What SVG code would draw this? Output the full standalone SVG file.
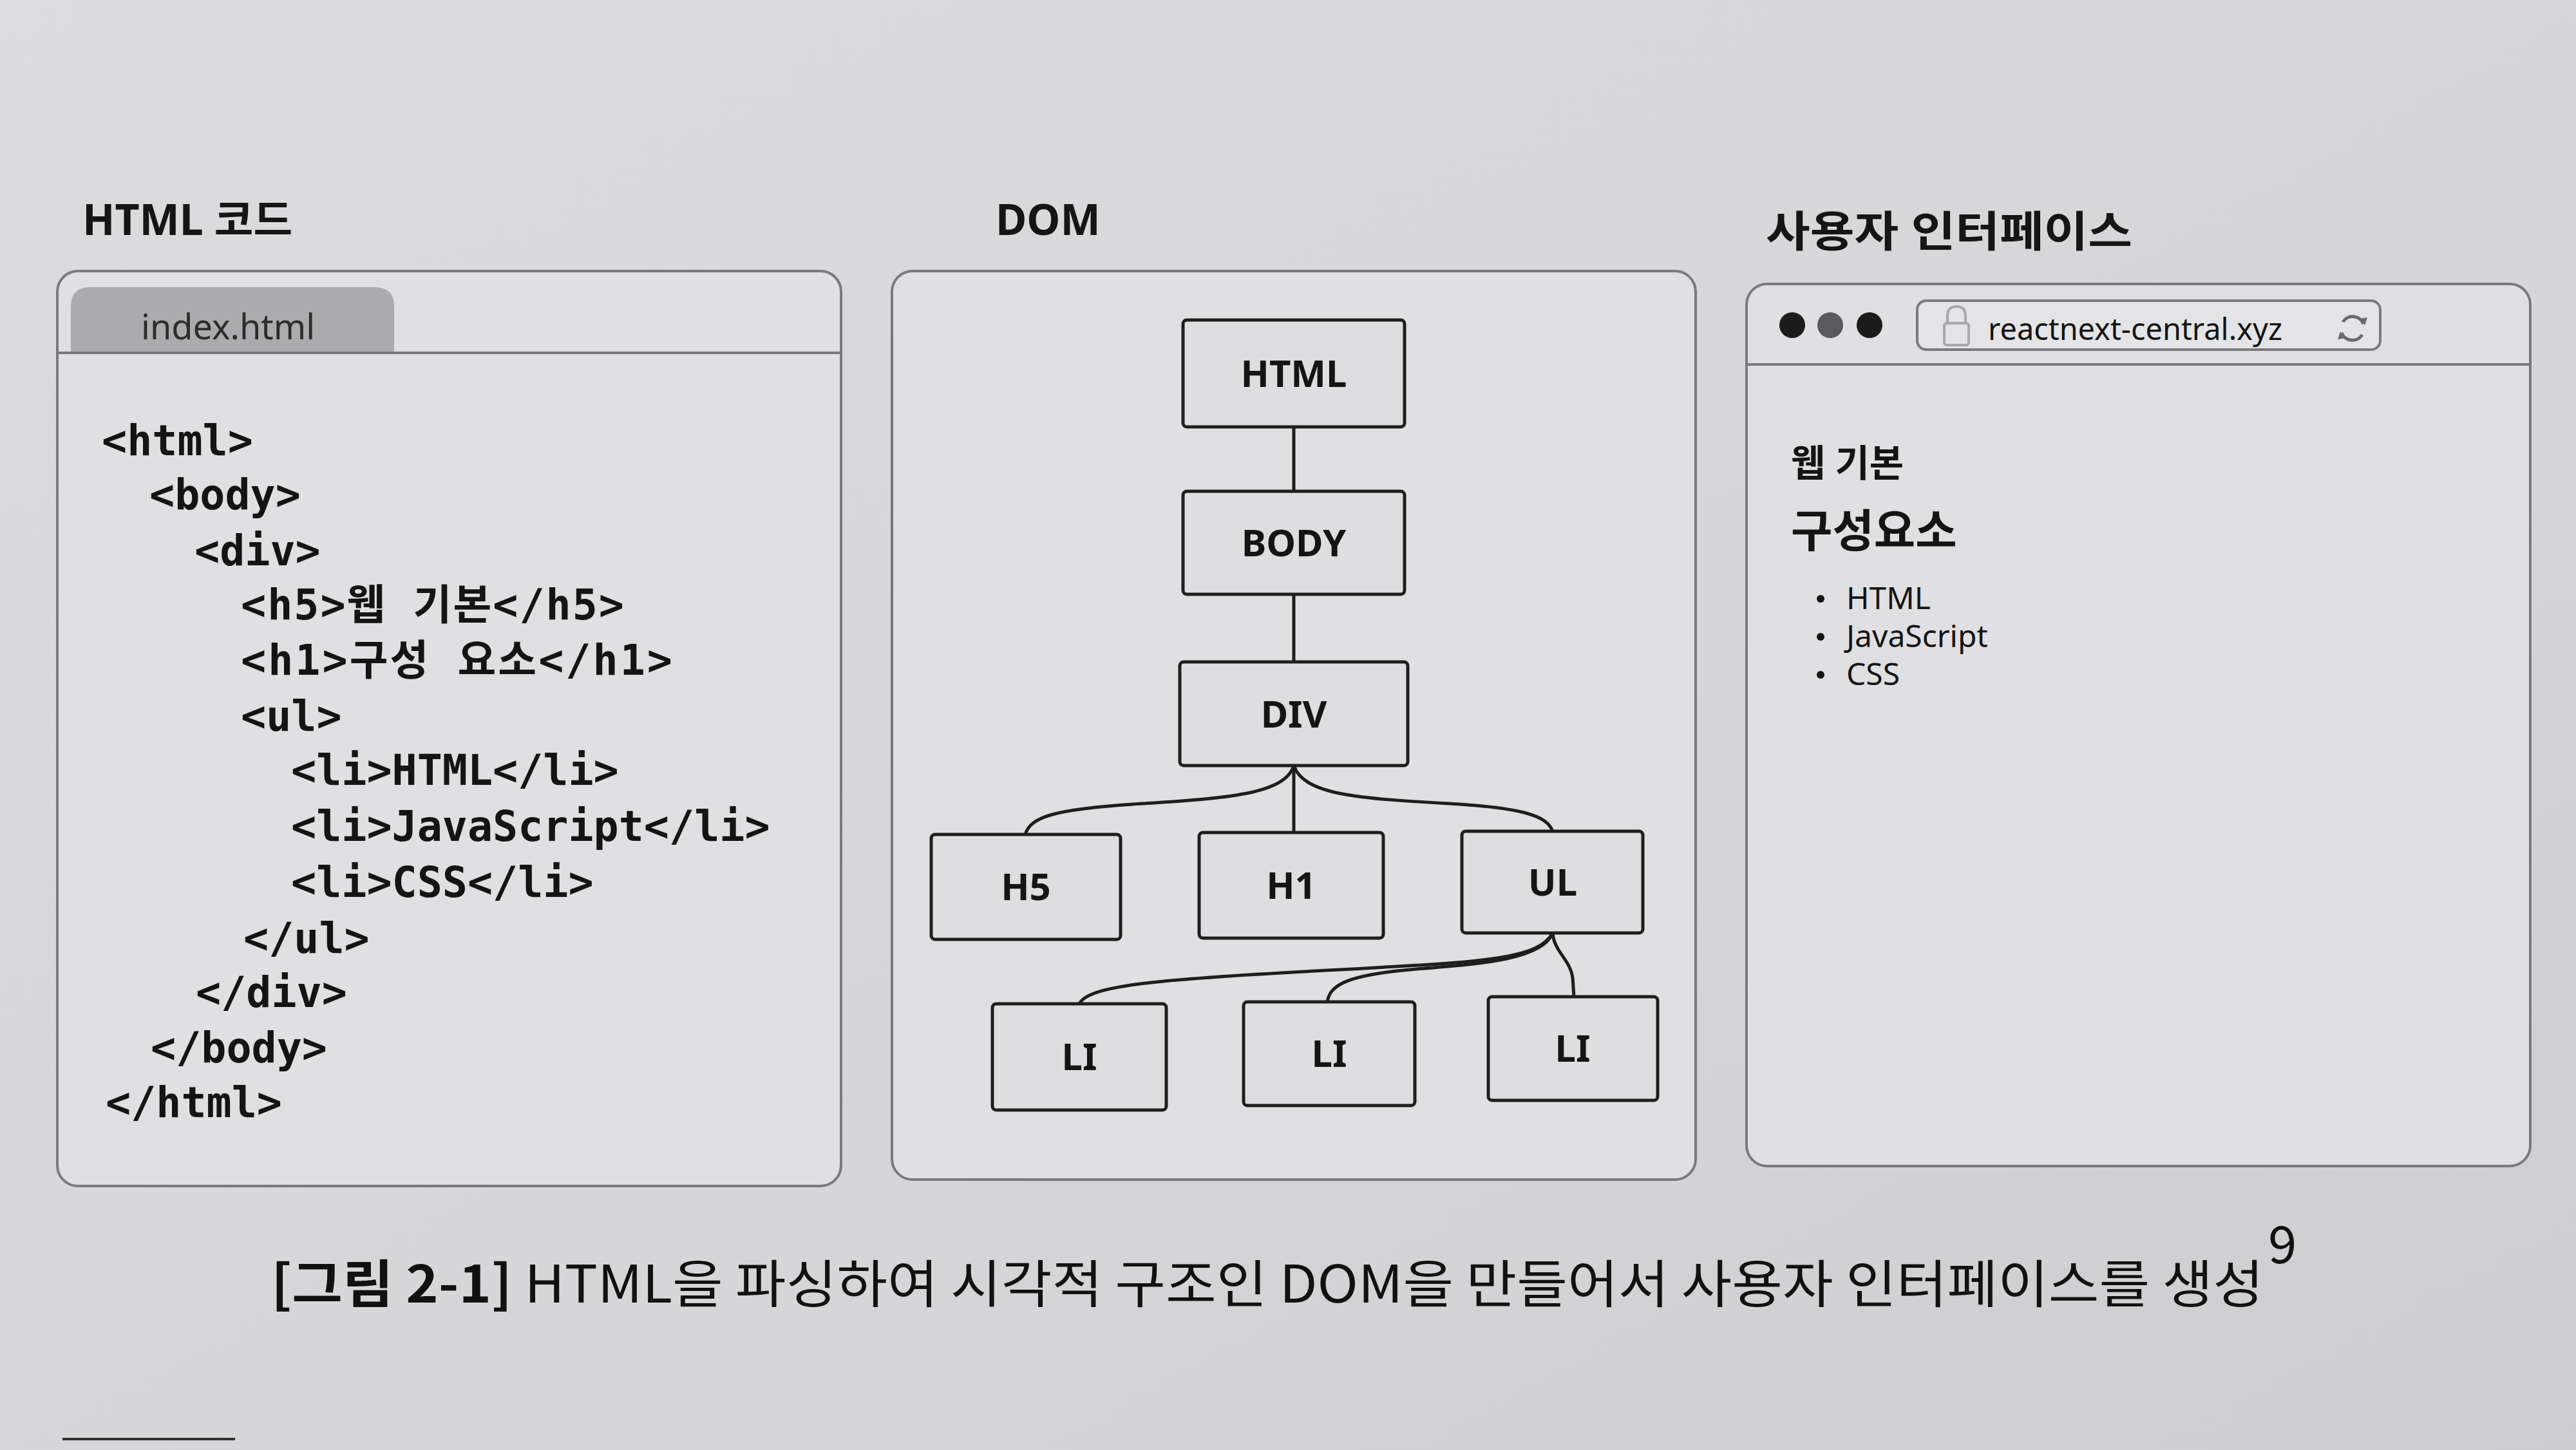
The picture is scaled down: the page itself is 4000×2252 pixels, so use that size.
<svg xmlns="http://www.w3.org/2000/svg" width="4000" height="2252" viewBox="0 0 4000 2252">
  <defs>
    <linearGradient id="bg" x1="0" y1="0" x2="1" y2="1">
      <stop offset="0" stop-color="#dcdcde"/>
      <stop offset="0.6" stop-color="#d6d6d8"/>
      <stop offset="1" stop-color="#cdcdcf"/>
    </linearGradient>
  </defs>
  <style>
    .panel { fill: #e0e0e2; stroke: #7a7a7c; stroke-width: 4; }
    .divider { stroke: #7a7a7c; stroke-width: 4; fill: none; }
    .title { font-family: "Noto Sans", "Noto Sans CJK KR", sans-serif; font-weight: bold; font-size: 66px; fill: #151515; }
    .code { font-family: "DejaVu Sans Mono", "Noto Sans CJK KR", monospace; font-weight: bold; font-size: 65px; fill: #141414; }
    .node rect { fill: #dedee0; stroke: #1e1e1e; stroke-width: 5; }
    .node text { font-family: "Noto Sans", "Noto Sans CJK KR", sans-serif; font-weight: bold; font-size: 58px; fill: #141414; text-anchor: middle; }
    .conn path { fill: none; stroke: #1e1e1e; stroke-width: 5; stroke-linecap: round; }
    .ui { font-family: "Noto Sans", "Noto Sans CJK KR", sans-serif; fill: #141414; }
    .caption { font-family: "Noto Sans CJK KR", "Noto Sans", sans-serif; font-size: 80px; fill: #111; }
  </style>

  <rect x="0" y="0" width="4000" height="2252" fill="url(#bg)"/>

  <!-- Left panel: HTML code -->
  <g id="html-code">
    <text class="title" x="128" y="365">HTML 코드</text>
    <rect class="panel" x="89" y="421" width="1217" height="1421" rx="32"/>
    <path d="M110 548 V476 Q110 446 140 446 H582 Q612 446 612 476 V548 Z" fill="#ababad"/>
    <line class="divider" x1="89" y1="548" x2="1306" y2="548"/>
    <text x="219" y="527" font-family="Noto Sans, sans-serif" font-size="54" fill="#2c2c2c">index.html</text>
    <text class="code" x="158" y="707">&lt;html&gt;</text>
    <text class="code" x="232" y="791">&lt;body&gt;</text>
    <text class="code" x="302" y="878">&lt;div&gt;</text>
    <text class="code" x="374" y="962" textLength="595" lengthAdjust="spacing">&lt;h5&gt;웹 기본&lt;/h5&gt;</text>
    <text class="code" x="374" y="1048" textLength="670" lengthAdjust="spacing">&lt;h1&gt;구성 요소&lt;/h1&gt;</text>
    <text class="code" x="374" y="1135">&lt;ul&gt;</text>
    <text class="code" x="452" y="1219">&lt;li&gt;HTML&lt;/li&gt;</text>
    <text class="code" x="452" y="1306">&lt;li&gt;JavaScript&lt;/li&gt;</text>
    <text class="code" x="452" y="1393">&lt;li&gt;CSS&lt;/li&gt;</text>
    <text class="code" x="378" y="1480">&lt;/ul&gt;</text>
    <text class="code" x="304" y="1564">&lt;/div&gt;</text>
    <text class="code" x="234" y="1650">&lt;/body&gt;</text>
    <text class="code" x="164" y="1735">&lt;/html&gt;</text>
  </g>

  <!-- Middle panel: DOM -->
  <g id="dom-panel">
    <text class="title" x="1546" y="365">DOM</text>
    <rect class="panel" x="1385" y="421" width="1248" height="1411" rx="32"/>
  </g>

  <g id="connectors" class="conn">
    <path d="M2009 663 V763"/>
    <path d="M2009 923 V1028"/>
    <path d="M2009 1189 C1995 1235 1900 1240 1760 1249 C1640 1257 1600 1268 1592 1296"/>
    <path d="M2009 1189 V1293"/>
    <path d="M2009 1189 C2025 1235 2110 1240 2250 1248 C2370 1255 2402 1268 2411 1291"/>
    <path d="M2411 1449 C2390 1490 2300 1494 2100 1505 C1800 1520 1690 1530 1676 1559"/>
    <path d="M2411 1449 C2396 1490 2300 1497 2200 1505 C2090 1514 2065 1530 2061 1556"/>
    <path d="M2411 1449 C2413 1478 2438 1490 2442 1518 L2444 1548"/>
  </g>

  <g id="node-html" class="node">
    <rect x="1837" y="497" width="344" height="166" rx="6"/>
    <text x="2009" y="601">HTML</text>
  </g>
  <g id="node-body" class="node">
    <rect x="1837" y="763" width="344" height="160" rx="6"/>
    <text x="2009" y="864">BODY</text>
  </g>
  <g id="node-div" class="node">
    <rect x="1832" y="1028" width="354" height="161" rx="6"/>
    <text x="2009" y="1130">DIV</text>
  </g>
  <g id="node-h5" class="node">
    <rect x="1446" y="1296" width="294" height="163" rx="6"/>
    <text x="1593" y="1398">H5</text>
  </g>
  <g id="node-h1" class="node">
    <rect x="1862" y="1293" width="286" height="164" rx="6"/>
    <text x="2005" y="1396">H1</text>
  </g>
  <g id="node-ul" class="node">
    <rect x="2270" y="1291" width="281" height="158" rx="6"/>
    <text x="2411" y="1391">UL</text>
  </g>
  <g id="node-li1" class="node">
    <rect x="1541" y="1559" width="270" height="165" rx="6"/>
    <text x="1676" y="1662">LI</text>
  </g>
  <g id="node-li2" class="node">
    <rect x="1931" y="1556" width="266" height="161" rx="6"/>
    <text x="2064" y="1657">LI</text>
  </g>
  <g id="node-li3" class="node">
    <rect x="2311" y="1548" width="263" height="161" rx="6"/>
    <text x="2442" y="1649">LI</text>
  </g>

  <!-- Right panel: user interface -->
  <g id="user-interface">
    <text class="title" x="2742" y="383" textLength="569" lengthAdjust="spacingAndGlyphs">사용자 인터페이스</text>
    <rect class="panel" x="2712" y="441" width="1217" height="1370" rx="32"/>
    <line class="divider" x1="2712" y1="566" x2="3929" y2="566"/>
    <circle cx="2783" cy="505" r="20" fill="#1c1c1c"/>
    <circle cx="2842" cy="505" r="20" fill="#5a5a5c"/>
    <circle cx="2903" cy="505" r="20" fill="#1c1c1c"/>
    <rect x="2977" y="467" width="719" height="76" rx="14" fill="#e4e4e6" stroke="#7a7a7c" stroke-width="4"/>
    <path d="M3024 503 V491 Q3024 476 3038 476 Q3052 476 3052 491 V503" fill="none" stroke="#a8a8aa" stroke-width="4"/>
    <rect x="3019" y="502" width="38" height="34" rx="4" fill="none" stroke="#a8a8aa" stroke-width="4"/>
    <text x="3087" y="528" font-family="Noto Sans, sans-serif" font-size="48" fill="#141414" textLength="457" lengthAdjust="spacingAndGlyphs">reactnext-central.xyz</text>
    <path d="M3638 500 A18 18 0 0 1 3670 503 M3668 520 A18 18 0 0 1 3636 517" fill="none" stroke="#6a6a6c" stroke-width="5"/>
    <path d="M3664 495 L3672 505 L3676 493 Z M3642 525 L3634 515 L3630 527 Z" fill="#6a6a6c"/>
    <text class="ui" x="2781" y="740" font-size="58" font-weight="bold">웹 기본</text>
    <text class="ui" x="2781" y="850" font-size="70" font-weight="bold">구성요소</text>
    <circle cx="2827" cy="930" r="6" fill="#141414"/>
    <circle cx="2827" cy="989" r="6" fill="#141414"/>
    <circle cx="2827" cy="1048" r="6" fill="#141414"/>
    <text class="ui" x="2867" y="946" font-size="48">HTML</text>
    <text class="ui" x="2867" y="1005" font-size="48">JavaScript</text>
    <text class="ui" x="2867" y="1064" font-size="48">CSS</text>
  </g>

  <!-- Caption -->
  <g id="caption">
    <text class="caption" x="421" y="2023" textLength="3094" lengthAdjust="spacingAndGlyphs"><tspan font-weight="bold">[그림 2-1]</tspan> HTML을 파싱하여 시각적 구조인 DOM을 만들어서 사용자 인터페이스를 생성</text>
    <text class="caption" x="3522" y="1962" font-size="46">9</text>
  </g>

  <line x1="97" y1="2235" x2="365" y2="2235" stroke="#333" stroke-width="4"/>
</svg>
